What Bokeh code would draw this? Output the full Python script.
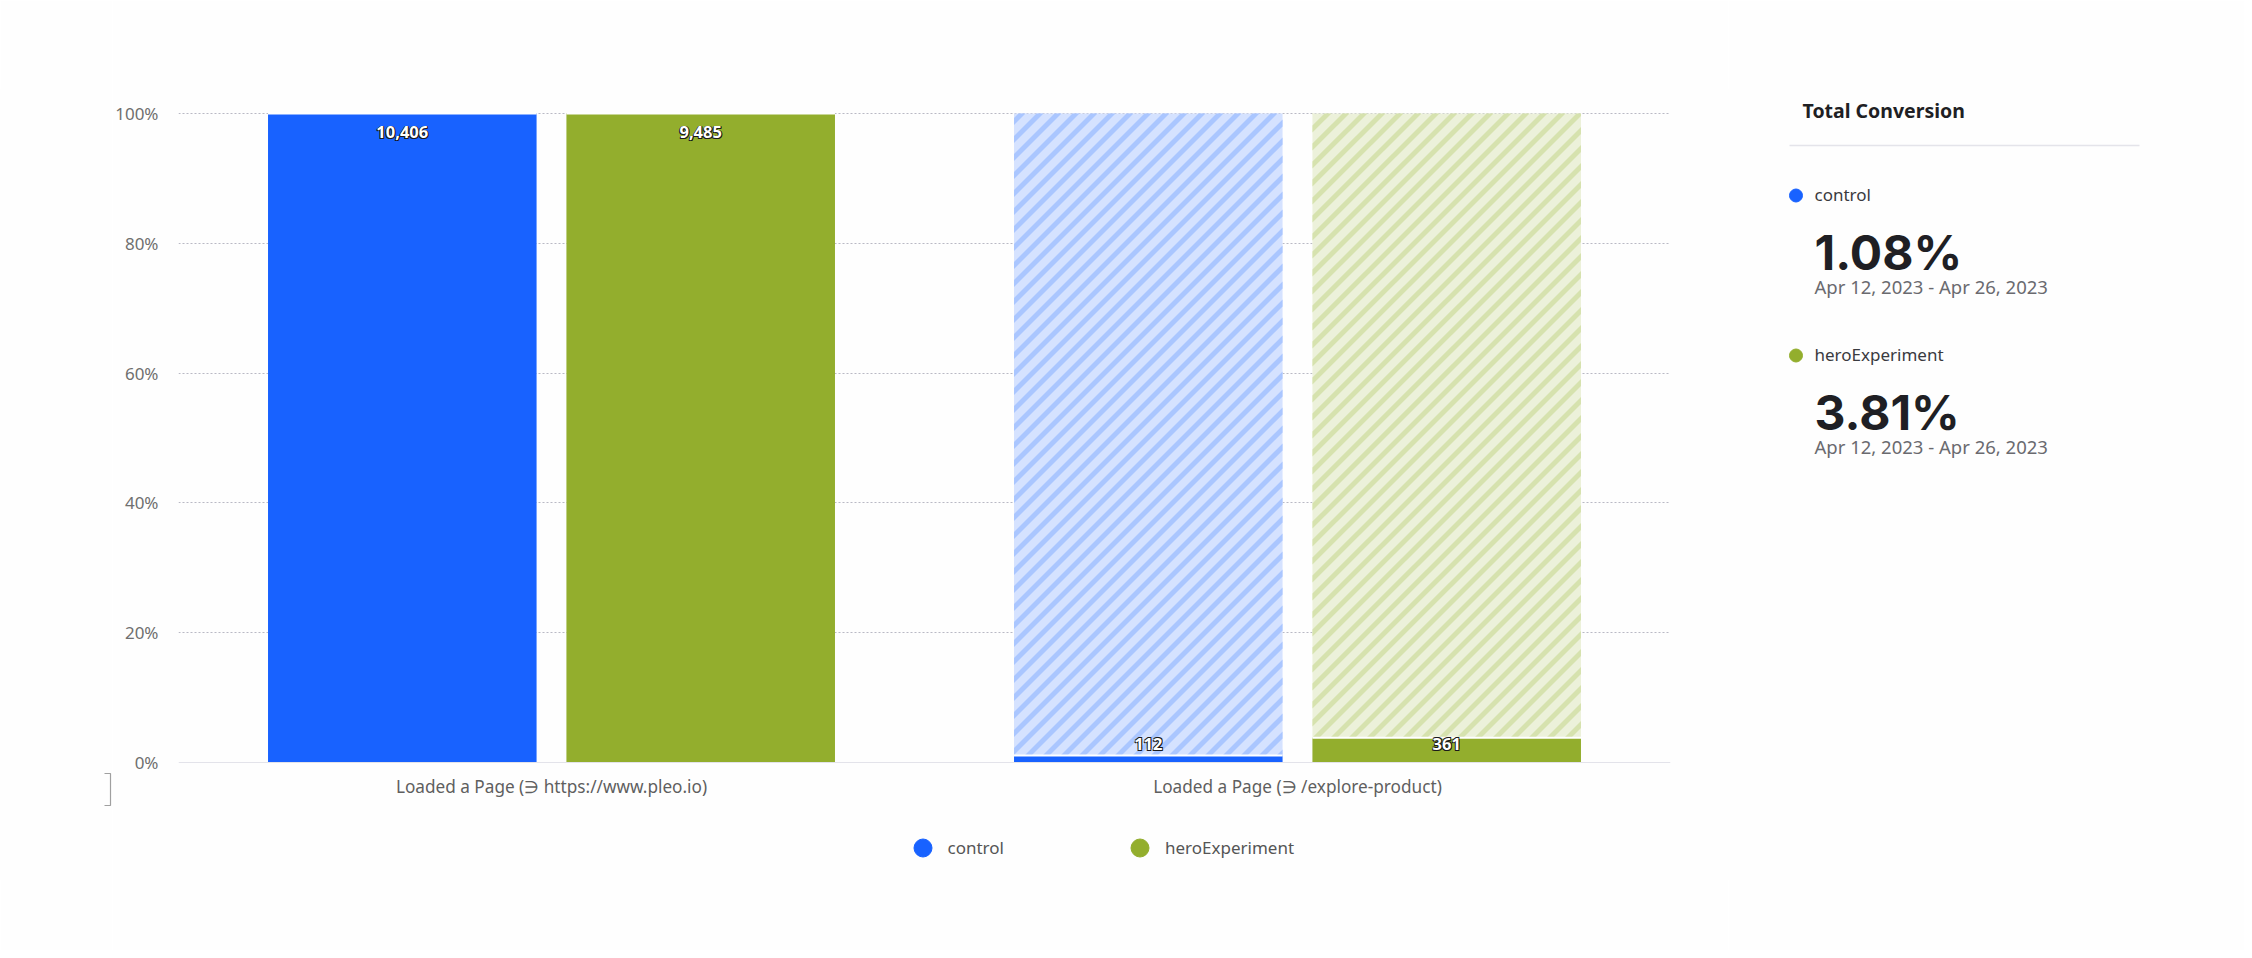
import numpy as np
from bokeh.embed import file_html
from bokeh.resources import INLINE
from bokeh.layouts import row
from bokeh.plotting import figure
from bokeh.core.properties import value
from bokeh.models import (ColumnDataSource, Range1d, Legend, LegendItem,
                          FixedTicker, Span)

categories = ["Loaded a Page (∋ https://www.pleo.io)", "Loaded a Page (∋ /explore-product)"]
series = ["control", "heroExperiment"]
start_counts = [10406, 9485]
end_counts = [112, 361]
end_pct = [1.08, 3.81]
totals = ["1.08%", "3.81%"]
date_range = "Apr 12, 2023 - Apr 26, 2023"
y_ticks = [0, 20, 40, 60, 80, 100]
y_tick_labels = {0: "0%", 20: "20%", 40: "40%", 60: "60%", 80: "80%", 100: "100%"}
BLUE = "#1862ff"
GREEN = "#93ae2d"
HATCH_BG = ["#d5e2ff", "#ecf1da"]
HATCH_FG = ["#aac6ff", "#d6e2ae"]
FONT = "Noto Sans"
BG = "#fefefe"

cat_x = [1, 3]
OFFSET = 0.4
BAR_W = 0.72
PX_X = 373.0    # pixels per x unit
PX_Y = 6.49     # pixels per percentage point
STRIPE_PERIOD = 18.0
STRIPE_WIDTH = 7.0


def clip(poly, a, b, c):
    """Keep the part of a polygon where a*x + b*y <= c."""
    out = []
    for (x0, y0), (x1, y1) in zip(poly, poly[1:] + poly[:1]):
        d0, d1 = a * x0 + b * y0 - c, a * x1 + b * y1 - c
        if d0 <= 0:
            out.append((x0, y0))
        if d0 * d1 < 0:
            f = d0 / (d0 - d1)
            out.append((x0 + f * (x1 - x0), y0 + f * (y1 - y0)))
    return out


def stripes(x0, x1, y0, y1):
    """45 degree bands inside a bar, returned in x / percent units."""
    rect = [(x0 * PX_X, y0 * PX_Y), (x1 * PX_X, y0 * PX_Y), (x1 * PX_X, y1 * PX_Y), (x0 * PX_X, y1 * PX_Y)]
    xs, ys = [], []
    lo = y0 * PX_Y - x1 * PX_X
    hi = y1 * PX_Y - x0 * PX_X
    k = np.floor(lo / STRIPE_PERIOD)
    while k * STRIPE_PERIOD < hi:
        c = k * STRIPE_PERIOD
        band = clip(clip(rect, -1, 1, c + STRIPE_WIDTH), 1, -1, -c)
        if len(band) >= 3:
            xs.append([q[0] / PX_X for q in band])
            ys.append([q[1] / PX_Y for q in band])
        k += 1
    return xs, ys


p = figure(width=1616, height=950, output_backend="svg", toolbar_location=None,
           x_range=Range1d(0, 4), y_range=Range1d(-18.18, 103.85),
           min_border_left=66, min_border_right=58, min_border_top=88, min_border_bottom=70,
           background_fill_color=BG, border_fill_color=BG)
p.outline_line_color = None
p.xgrid.visible = False
p.ygrid.ticker = FixedTicker(ticks=y_ticks[1:])
p.ygrid.grid_line_color = "#b9b9c4"
p.ygrid.grid_line_dash = "2 2"
p.ygrid.grid_line_width = 1
p.add_layout(Span(location=0, dimension="width", line_color="#e3e3ea", line_width=1))
p.yaxis.ticker = FixedTicker(ticks=y_ticks)
p.yaxis.major_label_overrides = y_tick_labels
p.yaxis.axis_line_color = None
p.yaxis.major_tick_line_color = None
p.yaxis.minor_tick_line_color = None
p.yaxis.major_tick_out = 0
p.yaxis.minor_tick_out = 0
p.yaxis.major_label_text_color = "#6f6f6f"
p.yaxis.major_label_text_font = FONT
p.yaxis.major_label_text_font_size = "17px"
p.yaxis.major_label_standoff = 20
p.xaxis.fixed_location = 0
p.xaxis.ticker = FixedTicker(ticks=cat_x)
p.xaxis.major_label_overrides = dict(zip(cat_x, categories))
p.xaxis.axis_line_color = None
p.xaxis.major_tick_line_color = None
p.xaxis.minor_tick_line_color = None
p.xaxis.major_label_text_color = "#5f5f5f"
p.xaxis.major_label_text_font = FONT
p.xaxis.major_label_text_font_size = "17.2px"
p.xaxis.major_label_standoff = 6

for i, (name, solid) in enumerate(zip(series, [BLUE, GREEN])):
    off = -OFFSET if i == 0 else OFFSET
    xc = [cx + off for cx in cat_x]
    src = ColumnDataSource(dict(
        x=xc,
        x0=[v - BAR_W / 2 for v in xc],
        x1=[v + BAR_W / 2 for v in xc],
        top=[100, end_pct[i]],
        pad_bottom=[100, end_pct[i]],
        pad_top=[100, 100],
        label=[f"{start_counts[i]:,}", f"{end_counts[i]:,}"],
        label_y=np.maximum([100, end_pct[i]], 5.74),
    ))
    p.vbar(x="x", top="pad_top", bottom="pad_bottom", width=BAR_W, source=src, line_color=None,
           fill_color=HATCH_BG[i])
    band_x, band_y = stripes(xc[1] - BAR_W / 2, xc[1] + BAR_W / 2, end_pct[i], 100)
    p.patches(xs=band_x, ys=band_y, fill_color=HATCH_FG[i], line_color=None)
    p.vbar(x="x", top="top", bottom=0, width=BAR_W, source=src, fill_color=solid, line_color=None)
    p.segment(x0="x0", x1="x1", y0="top", y1="top", source=src, line_color="white", line_width=2)
    for dx, dy in [(1, 1), (-1, 1), (1, -0.5), (-0.5, -0.5)]:
        p.text(x="x", y="label_y", text="label", source=src, text_align="center", text_baseline="middle",
               text_color="#1a1a1a", text_font=value(FONT), text_font_size="16.5px", text_font_style="bold",
               x_offset=dx, y_offset=18.7 + dy)
    p.text(x="x", y="label_y", text="label", source=src, text_align="center", text_baseline="middle",
           text_color="white", text_font=value(FONT), text_font_size="16.5px", text_font_style="bold",
           x_offset=0, y_offset=18.7)

items = []
for name, c in zip(series, [BLUE, GREEN]):
    r = p.scatter(x=[cat_x[0]], y=[float("nan")], size=18, color=c)
    items.append(LegendItem(label=name, renderers=[r]))
legend = Legend(items=items, orientation="horizontal", location=(721.5, 10.5),
                glyph_width=45, glyph_height=45, label_standoff=3, spacing=113,
                padding=0, margin=0, background_fill_alpha=0, border_line_color=None,
                label_text_color="#555555", label_text_font=FONT, label_text_font_size="17px")
p.add_layout(legend, "center")

# left strip with the stray bracket; frames of a row line up, so ranges run in page pixels
l = figure(width=112, height=950, output_backend="svg", toolbar_location=None,
           x_range=Range1d(0, 112), y_range=Range1d(880, 88),
           min_border_left=0, min_border_right=0, min_border_top=88, min_border_bottom=70,
           background_fill_color=BG, border_fill_color=BG)
l.axis.visible = False
l.grid.visible = False
l.outline_line_color = None
l.line(x=[104, 110, 110, 104], y=[773, 773, 805, 805], line_color="#a0a0a0", line_width=1.2)

# side panel
s = figure(width=516, height=950, output_backend="svg", toolbar_location=None,
           x_range=Range1d(1728, 2244), y_range=Range1d(880, 88),
           min_border_left=0, min_border_right=0, min_border_top=88, min_border_bottom=70,
           background_fill_color=BG, border_fill_color=BG)
s.axis.visible = False
s.grid.visible = False
s.outline_line_color = None

def t(x, y, text, size, color, style="normal", font=FONT):
    s.text(x=[x], y=[y], text=[text], text_font=value(font), text_font_size=size, text_color=color,
           text_baseline="middle", text_align="left", text_font_style=style)

t(1802, 110, "Total Conversion", "19.5px", "#1f1f24", "bold")
s.segment(x0=[1789], x1=[2139], y0=[145], y1=[145], line_color="#e4e4ea", line_width=1.5)
for name, c, total, y0 in zip(series, [BLUE, GREEN], totals, [195, 355]):
    s.scatter(x=[1795.5], y=[y0], size=13, color=c)
    t(1814, y0 - 1, name, "17px", "#3a3a3f")
    t(1814, y0 + 57, total, "48px", "#1f1f24", "bold", "Inter")
    t(1814, y0 + 91, date_range, "18.5px", "#6a6a6f")

open("out.html", "w").write(file_html(row(l, p, s, spacing=0), INLINE))
